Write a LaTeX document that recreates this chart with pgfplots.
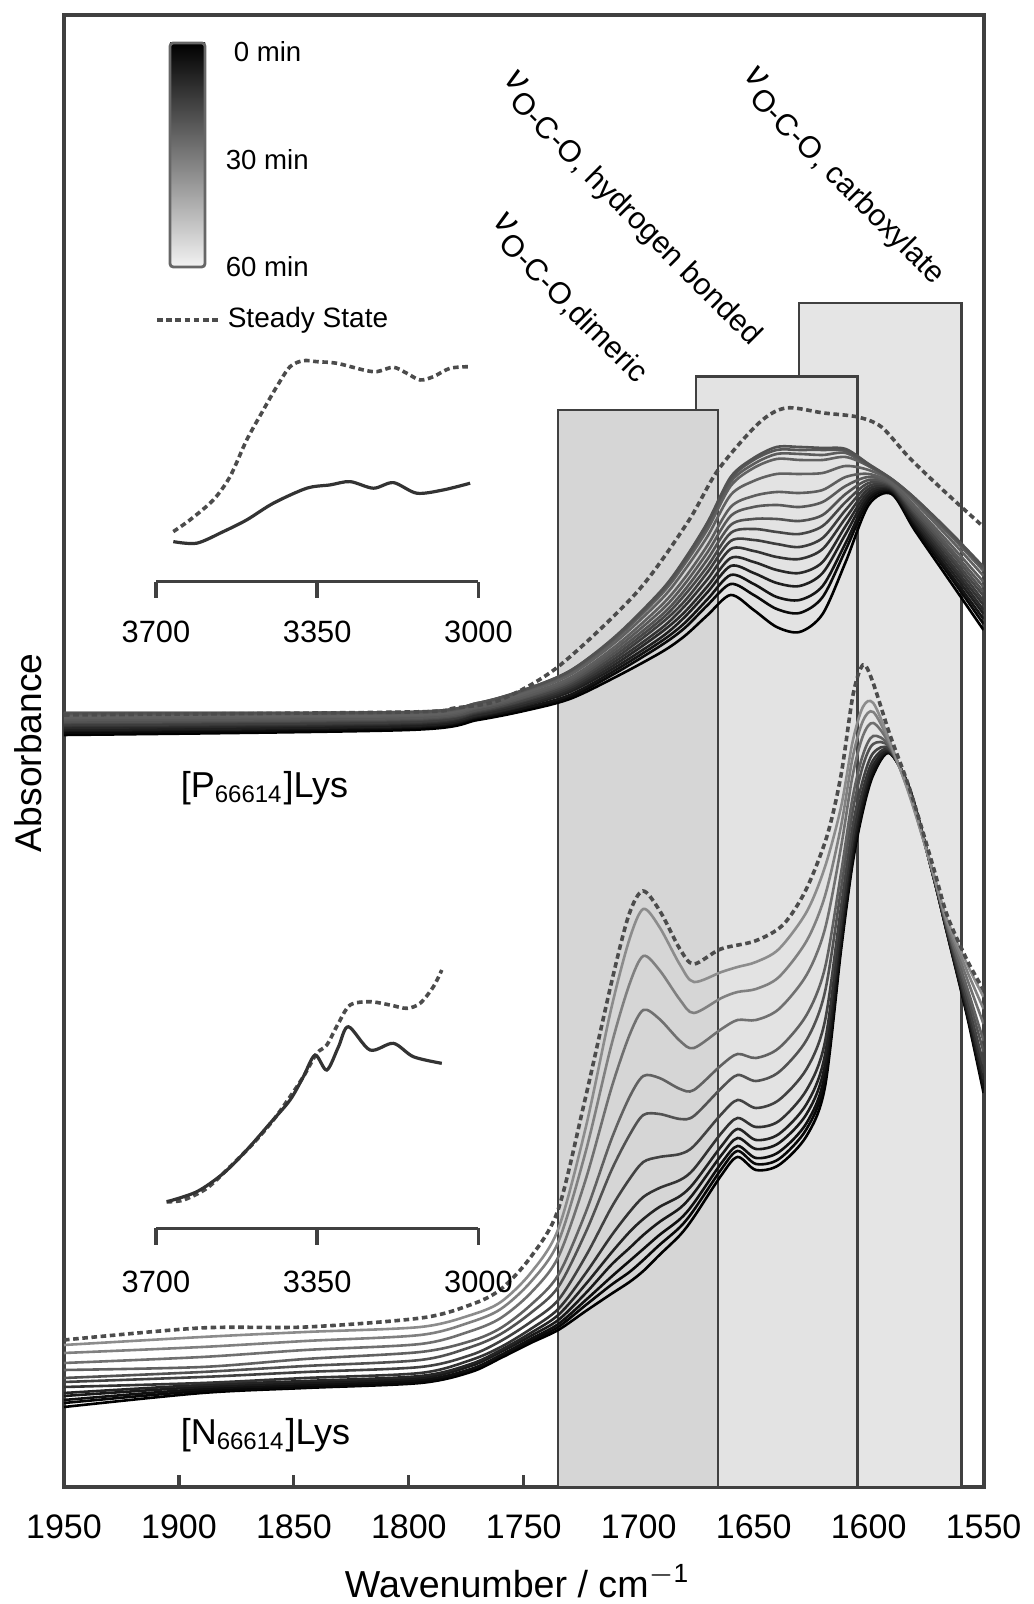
\documentclass[border=0pt]{standalone}
\usepackage{fontspec}
\setmainfont{Liberation Sans}
\usepackage{pgfplots}
\pgfplotsset{compat=1.18}
\usepackage{pgfplotstable}

% [P66614]Lys family (c0 = 0 min ... c15 = 60 min)
\pgfplotstableread{
wn c0 c1 c2 c3 c4 c5 c6 c7 c8 c9 c10 c11 c12 c13 c14 c15
1950 752 754 756 757 759 761 762 764 765 767 769 771 773 773 774 774
1800 757 759 760 761 763 764 765 767 768 769 771 772 774 774 775 775
1770 767 769 770 771 772 774 775 776 777 779 780 782 783 783 784 784
1750 776 778 779 781 782 784 786 787 789 790 792 794 796 796 797 797
1730 788 790 792 795 797 799 801 803 805 807 809 812 814 815 816 816
1710 810 814 817 820 823 826 829 832 835 838 841 845 848 849 850 851
1690 835 842 846 850 855 859 864 868 872 877 882 888 893 895 896 897
1680 851 859 864 870 875 881 886 892 897 903 909 917 923 925 927 928
1670 872 882 888 895 901 908 915 921 928 935 942 951 958 961 964 965
1660 892 903 912 921 929 938 946 954 962 971 980 992 1001 1005 1008 1010
1650 877 892 903 914 925 936 947 958 968 980 991 1006 1019 1023 1027 1029
1640 860 878 890 904 917 930 943 955 968 982 995 1013 1028 1033 1037 1040
1630 855 874 887 901 914 928 940 953 966 980 994 1013 1027 1033 1037 1040
1620 873 890 901 914 925 938 949 961 972 985 997 1014 1027 1032 1037 1039
1610 925 937 944 953 961 969 977 985 993 1001 1010 1021 1030 1034 1036 1038
1600 982 986 989 992 995 998 1001 1004 1007 1010 1013 1017 1021 1021 1022 1023
1590 993 995 996 997 998 999 1000 1001 1002 1003 1004 1006 1007 1007 1008 1008
1580 957 960 963 965 967 970 972 974 976 979 981 985 987 988 989 989
1565 907 912 915 919 923 926 930 933 937 940 944 949 953 954 955 956
1550 857 863 868 873 877 882 886 891 895 900 905 911 916 918 919 920
}\Ptab

\pgfplotstableread{
wn y
1950 772
1800 775
1780 779
1760.4 787
1735.2 820
1701.1 894
1678.9 964
1665.5 1017
1647.7 1064
1635.9 1079
1619.6 1074
1604.8 1070
1594.4 1060
1582.6 1030
1567.7 997
1550 960
}\Pss

% [N66614]Lys family (c0 = 0 min ... c11 = 60 min)
\pgfplotstableread{
wn c0 c1 c2 c3 c4 c5 c6 c7 c8 c9 c10 c11
1950 80 84 87 91 94 100 105 109 117 124 134 142
1890 94 96 98 100 102 104 110 115 120 130 140 150
1845 99 100 102 104 106 109 115 121 128 137 146 155
1795 104 105 107 109 111 114 120 127 135 143 152 160
1773 115 117 118 121 123 127 132 140 146 156 165 172
1760 129 131 132 135 137 140 146 153 159 169 178 185
1747 144 146 148 151 154 158 165 174 182 194 205 214
1735 157 160 163 167 172 178 187 200 212 230 245 258
1723 176 182 187 194 203 214 231 255 275 308 336 360
1712 193 202 210 222 234 251 279 316 347 398 441 478
1704 205 215 226 239 255 275 308 352 390 452 503 548
1698 216 227 238 252 268 290 325 372 411 477 531 578
1691 232 242 252 265 280 299 330 373 409 468 517 560
1682 252 260 268 279 291 307 333 368 398 446 487 522
1676 270 277 284 294 304 318 341 371 397 439 474 505
1664 312 318 324 332 341 354 373 399 422 458 489 515
1657 330 336 341 349 358 369 387 412 433 467 495 520
1649 317 323 329 338 347 360 379 406 429 467 498 525
1639 322 328 335 344 353 366 387 415 439 478 510 538
1627 351 358 364 373 383 397 418 447 472 512 546 575
1619 400 407 413 422 432 445 466 495 519 558 591 620
1612 537 541 546 551 558 566 580 598 614 640 661 680
1607 623 627 630 635 641 648 660 675 689 711 729 745
1602.5 676 679 682 686 691 697 707 721 732 751 766 780
1598 712 714 716 719 722 727 734 743 751 764 775 784
1591 734 734 735 735 736 737 738 740 741 743 745 747
1582 697 697 697 696 696 696 695 694 693 692 691 690
1572 612 612 612 612 612 613 613 613 614 614 615 615
1566 555 555 556 556 557 558 559 561 562 564 566 568
1557 469 471 472 474 477 480 485 492 498 507 515 522
1550 394 397 400 404 408 414 423 435 446 463 478 490
}\Ntab

\pgfplotstableread{
wn y
1950 147
1890.8 159
1844.7 160
1794.7 169
1773.4 182
1760.4 197
1747.3 229
1735.1 277
1723.4 387
1711.6 507
1704.3 572
1698.2 596
1690.8 576
1682.1 538
1676 523
1664.3 538
1649.4 546
1637.3 562
1627.3 597
1618.1 651
1612 712
1606.8 792
1602.5 822
1598.5 807
1590.7 752
1582 697
1572 621
1565.9 572
1557.2 527
1550 497
}\Nss

% insets
\pgfplotstableread{
wn y
3662.4 955.3
3626.2 967
3575.5 987
3539.3 1010.3
3503 1047
3466.9 1077
3437.8 1100.3
3408.9 1120.3
3380.1 1126.3
3350.9 1125.3
3307.5 1123.7
3249.7 1117
3220.6 1115.3
3184.6 1119.7
3155.5 1113.7
3126.6 1107
3097.7 1110.3
3061.4 1118.7
3018 1120.3
}\PinsetSS

\pgfplotstableread{
wn y
3662.4 945.3
3611.6 943.7
3553.8 955.3
3503 967
3445.2 983.7
3372.7 998.7
3322.1 1002
3278.6 1005.3
3228 998.7
3184.6 1004.3
3133.8 993.7
3076 997
3018 1003.7
}\PinsetT

\pgfplotstableread{
wn y
3676.8 285.3
3640.7 287
3589.9 298.7
3539.3 320.3
3488.7 343.7
3445.2 367
3409 390.3
3380.1 410.3
3350.9 433.7
3329.2 442
3304 463.7
3278.6 482
3235.2 485.3
3191.7 482
3155.5 478.7
3126.6 483.7
3097.7 500.3
3079.5 517
}\NinsetSS

\pgfplotstableread{
wn y
3676.8 285.3
3611.6 295.3
3553.8 313.7
3503 337
3452.4 363.7
3409 387
3380.1 410.3
3354.6 432
3329.2 417
3304 440
3282.3 460.3
3235.2 437
3184.6 443.7
3141.1 430.3
3079.5 423.7
}\NinsetT

\tikzset{
  ss/.style={black!70, line width=0.9pt, dash pattern=on 1.4pt off 0.9pt, smooth},
  cv/.style={line width=0.65pt, smooth},
}

\begin{document}
\begin{tikzpicture}
\path[use as bounding box] (0,0) rectangle (258.5pt,401pt);

\begin{axis}[
  at={(16pt,29.25pt)}, anchor=south west,
  width=229.9pt, height=368pt, scale only axis,
  xmin=1550, xmax=1950, x dir=reverse,
  ymin=0, ymax=1472,
  xtick={1550,1600,1650,1700,1750,1800,1850,1900,1950},
  xticklabels={1550,1600,1650,1700,1750,1800,1850,1900,1950},
  ytick=\empty,
  xtick pos=bottom, tick align=inside, major tick length=3pt,
  tick style={black!75, line width=0.8pt},
  axis line style={black!75, line width=1pt},
  ticklabel style={font=\fontsize{8.5}{10}\selectfont},
  xticklabel shift=3.4pt,
]
% bands
\draw[fill=black!10, draw=black!75, line width=0.6pt] (1630.3,0) rectangle (1559.6,1183.7);
\draw[fill=black!11, draw=black!75, line width=0.6pt] (1675.2,0) rectangle (1604.8,1110.3);
\draw[fill=black!16, draw=black!75, line width=0.6pt] (1735.1,0) rectangle (1665.4,1077);

% [P66614]Lys
\addplot[cv, black!100] table[x=wn,y=c0]{\Ptab};
\addplot[cv, black!96] table[x=wn,y=c1]{\Ptab};
\addplot[cv, black!92] table[x=wn,y=c2]{\Ptab};
\addplot[cv, black!88] table[x=wn,y=c3]{\Ptab};
\addplot[cv, black!84] table[x=wn,y=c4]{\Ptab};
\addplot[cv, black!80] table[x=wn,y=c5]{\Ptab};
\addplot[cv, black!76] table[x=wn,y=c6]{\Ptab};
\addplot[cv, black!72] table[x=wn,y=c7]{\Ptab};
\addplot[cv, black!68] table[x=wn,y=c8]{\Ptab};
\addplot[cv, black!65] table[x=wn,y=c9]{\Ptab};
\addplot[cv, black!63] table[x=wn,y=c10]{\Ptab};
\addplot[cv, black!62] table[x=wn,y=c11]{\Ptab};
\addplot[cv, black!62] table[x=wn,y=c12]{\Ptab};
\addplot[cv, black!64] table[x=wn,y=c13]{\Ptab};
\addplot[cv, black!66] table[x=wn,y=c14]{\Ptab};
\addplot[cv, black!68] table[x=wn,y=c15]{\Ptab};
\addplot[ss] table[x=wn,y=y]{\Pss};

% [N66614]Lys
\addplot[cv, black!100] table[x=wn,y=c0]{\Ntab};
\addplot[cv, black!97] table[x=wn,y=c1]{\Ntab};
\addplot[cv, black!94] table[x=wn,y=c2]{\Ntab};
\addplot[cv, black!90] table[x=wn,y=c3]{\Ntab};
\addplot[cv, black!86] table[x=wn,y=c4]{\Ntab};
\addplot[cv, black!80] table[x=wn,y=c5]{\Ntab};
\addplot[cv, black!74] table[x=wn,y=c6]{\Ntab};
\addplot[cv, black!68] table[x=wn,y=c7]{\Ntab};
\addplot[cv, black!62] table[x=wn,y=c8]{\Ntab};
\addplot[cv, black!56] table[x=wn,y=c9]{\Ntab};
\addplot[cv, black!50] table[x=wn,y=c10]{\Ntab};
\addplot[cv, black!45] table[x=wn,y=c11]{\Ntab};
\addplot[ss] table[x=wn,y=y]{\Nss};
\end{axis}

% top inset
\begin{axis}[
  at={(39pt,255.6pt)}, anchor=south west,
  width=80.6pt, height=62.9pt, scale only axis,
  xmin=3000, xmax=3700, x dir=reverse,
  ymin=905.3, ymax=1157,
  axis x line*=bottom, axis y line=none,
  xtick={3000,3350,3700}, xticklabels={3000,3350,3700}, ytick=\empty,
  tick align=outside, major tick length=4.1pt,
  x axis line style={black!75, line width=0.9pt},
  xtick style={black!75, line width=0.9pt},
  ticklabel style={font=\fontsize{7.7}{9}\selectfont},
  xticklabel shift=2.2pt, clip=false,
]
\addplot[ss] table[x=wn,y=y]{\PinsetSS};
\addplot[cv, black!80, line width=0.8pt] table[x=wn,y=y]{\PinsetT};
\end{axis}

% bottom inset
\begin{axis}[
  at={(39pt,93.9pt)}, anchor=south west,
  width=80.6pt, height=77.1pt, scale only axis,
  xmin=3000, xmax=3700, x dir=reverse,
  ymin=258.7, ymax=567,
  axis x line*=bottom, axis y line=none,
  xtick={3000,3350,3700}, xticklabels={3000,3350,3700}, ytick=\empty,
  tick align=outside, major tick length=4.1pt,
  x axis line style={black!75, line width=0.9pt},
  xtick style={black!75, line width=0.9pt},
  ticklabel style={font=\fontsize{7.7}{9}\selectfont},
  xticklabel shift=3pt, clip=false,
]
\addplot[ss] table[x=wn,y=y]{\NinsetSS};
\addplot[cv, black!80, line width=0.8pt] table[x=wn,y=y]{\NinsetT};
\end{axis}

% axis titles
\node[anchor=base, font=\fontsize{9.4}{11}\selectfont] at (129.4pt,1.6pt) {Wavenumber / cm\textsuperscript{$-$1}};
\node[rotate=90, font=\fontsize{9.3}{11}\selectfont] at (7.1pt,212.8pt) {Absorbance};

% sample labels
\node[anchor=base west, inner sep=0pt, font=\fontsize{9}{11}\selectfont] at (45pt,201.5pt) {[P\textsubscript{66614}]Lys};
\node[anchor=base west, inner sep=0pt, font=\fontsize{9}{11}\selectfont] at (45pt,39.75pt) {[N\textsubscript{66614}]Lys};

% band annotations
\node[rotate=-45, anchor=base west, inner sep=0pt] at (185.75pt,381.75pt)
  {{\fontsize{9}{10}\selectfont\textit{ν}}\kern0.3pt\raisebox{-3.2pt}{\fontsize{7.6}{9}\selectfont O-C-O, carboxylate}};
\node[rotate=-45, anchor=base west, inner sep=0pt] at (125.75pt,380.8pt)
  {{\fontsize{9}{10}\selectfont\textit{ν}}\kern0.3pt\raisebox{-3.2pt}{\fontsize{7.6}{9}\selectfont O-C-O, hydrogen bonded}};
\node[rotate=-45, anchor=base west, inner sep=0pt] at (123.1pt,345.3pt)
  {{\fontsize{9}{10}\selectfont\textit{ν}}\kern0.3pt\raisebox{-3.2pt}{\fontsize{7.6}{9}\selectfont O-C-O,dimeric}};

% time legend
\shade[top color=black, bottom color=black!5] (42.5pt,334.25pt) rectangle (51.25pt,390.25pt);
\draw[black!60, line width=0.7pt, rounded corners=0.8pt] (42.5pt,334.25pt) rectangle (51.25pt,390.25pt);
\node[anchor=west, inner sep=0pt, font=\fontsize{6.9}{8}\selectfont] at (58.25pt,388pt) {0 min};
\node[anchor=west, inner sep=0pt, font=\fontsize{6.9}{8}\selectfont] at (56.25pt,361pt) {30 min};
\node[anchor=west, inner sep=0pt, font=\fontsize{6.9}{8}\selectfont] at (56.25pt,334.25pt) {60 min};
\draw[black!70, line width=0.9pt, dash pattern=on 1.4pt off 0.9pt] (39.25pt,321pt) -- (54.5pt,321pt);
\node[anchor=west, inner sep=0pt, font=\fontsize{7}{8}\selectfont] at (56.75pt,321pt) {Steady State};
\end{tikzpicture}
\end{document}
